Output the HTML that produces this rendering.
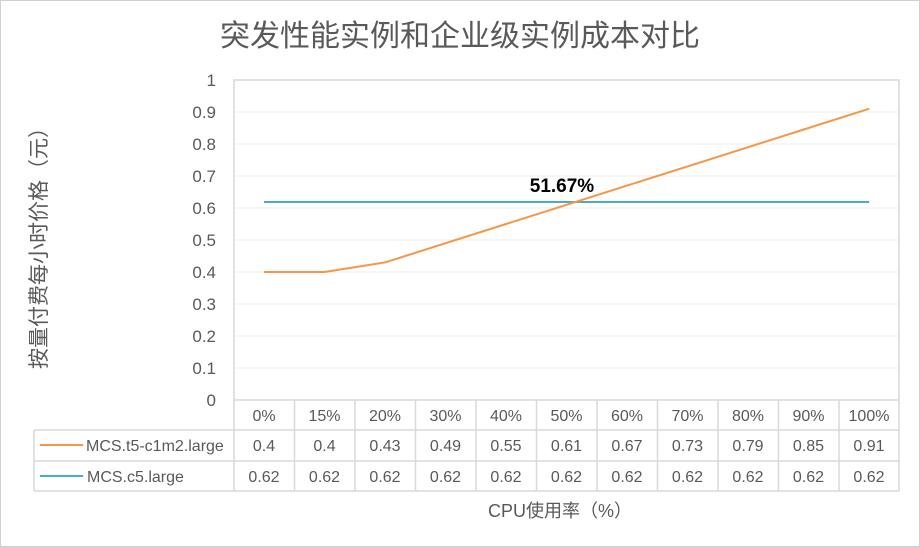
<!DOCTYPE html>
<html><head><meta charset="utf-8"><style>
body{margin:0;background:#fff}
svg{display:block;font-family:"Liberation Sans","Noto Sans CJK SC",sans-serif}
</style></head><body>
<svg width="920" height="547" viewBox="0 0 920 547">
<rect x="0.5" y="0.5" width="919" height="546" fill="#fff" stroke="#d0d0d0"/>
<text x="460" y="46" font-size="30" fill="#595959" text-anchor="middle">突发性能实例和企业级实例成本对比</text>
<g stroke="#f0f0f0" stroke-width="1.3">
<line x1="234" x2="899" y1="112" y2="112"/><line x1="234" x2="899" y1="144" y2="144"/><line x1="234" x2="899" y1="176" y2="176"/><line x1="234" x2="899" y1="208" y2="208"/><line x1="234" x2="899" y1="240" y2="240"/><line x1="234" x2="899" y1="272" y2="272"/><line x1="234" x2="899" y1="304" y2="304"/><line x1="234" x2="899" y1="336" y2="336"/><line x1="234" x2="899" y1="368" y2="368"/>
</g>
<g stroke="#d9d9d9" stroke-width="1.5" fill="none">
<rect x="234" y="80" width="665" height="320"/>
<line x1="234" y1="400" x2="234" y2="491"/>
<line x1="34" y1="430" x2="899" y2="430"/><line x1="34" y1="461" x2="899" y2="461"/><line x1="34" y1="491" x2="899" y2="491"/>
<line x1="34" y1="430" x2="34" y2="491"/><line x1="899" y1="400" x2="899" y2="491"/>
<line x1="294.5" y1="400" x2="294.5" y2="491"/><line x1="355" y1="400" x2="355" y2="491"/><line x1="415.5" y1="400" x2="415.5" y2="491"/><line x1="476" y1="400" x2="476" y2="491"/><line x1="536.5" y1="400" x2="536.5" y2="491"/><line x1="597" y1="400" x2="597" y2="491"/><line x1="657.5" y1="400" x2="657.5" y2="491"/><line x1="718" y1="400" x2="718" y2="491"/><line x1="778.5" y1="400" x2="778.5" y2="491"/><line x1="839" y1="400" x2="839" y2="491"/>
</g>
<g font-size="17" fill="#595959" text-anchor="end">
<text x="216" y="86">1</text><text x="216" y="118">0.9</text><text x="216" y="150">0.8</text><text x="216" y="182">0.7</text><text x="216" y="214">0.6</text><text x="216" y="246">0.5</text><text x="216" y="278">0.4</text><text x="216" y="310">0.3</text><text x="216" y="342">0.2</text><text x="216" y="374">0.1</text><text x="216" y="406">0</text>
</g>
<text transform="translate(46,243) rotate(-90)" font-size="21" fill="#595959" text-anchor="middle">按量付费每小时价格（元）</text>
<line x1="264" y1="202" x2="869" y2="202" stroke="#4bacc6" stroke-width="2"/>
<polyline fill="none" stroke="#f79646" stroke-width="2" points="264,272 324.5,272 385,262.4 445.5,243.2 506,224 566.5,204.8 627,185.6 687.5,166.4 748,147.2 808.5,128 869,108.8"/>
<text x="562" y="192" font-size="19" font-weight="bold" fill="#000" text-anchor="middle">51.67%</text>
<g font-size="16" fill="#595959" text-anchor="middle">
<text x="264" y="421">0%</text><text x="324.5" y="421">15%</text><text x="385" y="421">20%</text><text x="445.5" y="421">30%</text><text x="506" y="421">40%</text><text x="566.5" y="421">50%</text><text x="627" y="421">60%</text><text x="687.5" y="421">70%</text><text x="748" y="421">80%</text><text x="808.5" y="421">90%</text><text x="869" y="421">100%</text>
<text x="264" y="451">0.4</text><text x="324.5" y="451">0.4</text><text x="385" y="451">0.43</text><text x="445.5" y="451">0.49</text><text x="506" y="451">0.55</text><text x="566.5" y="451">0.61</text><text x="627" y="451">0.67</text><text x="687.5" y="451">0.73</text><text x="748" y="451">0.79</text><text x="808.5" y="451">0.85</text><text x="869" y="451">0.91</text>
<text x="264" y="482">0.62</text><text x="324.5" y="482">0.62</text><text x="385" y="482">0.62</text><text x="445.5" y="482">0.62</text><text x="506" y="482">0.62</text><text x="566.5" y="482">0.62</text><text x="627" y="482">0.62</text><text x="687.5" y="482">0.62</text><text x="748" y="482">0.62</text><text x="808.5" y="482">0.62</text><text x="869" y="482">0.62</text>
</g>
<line x1="40" y1="445" x2="83" y2="445" stroke="#f79646" stroke-width="2"/>
<line x1="40" y1="476" x2="83" y2="476" stroke="#4bacc6" stroke-width="2"/>
<text x="86" y="451" font-size="16" fill="#595959">MCS.t5-c1m2.large</text>
<text x="87" y="482" font-size="16" fill="#595959">MCS.c5.large</text>
<text x="560" y="517" font-size="18" fill="#595959" text-anchor="middle">CPU使用率（%）</text>
</svg>
</body></html>
